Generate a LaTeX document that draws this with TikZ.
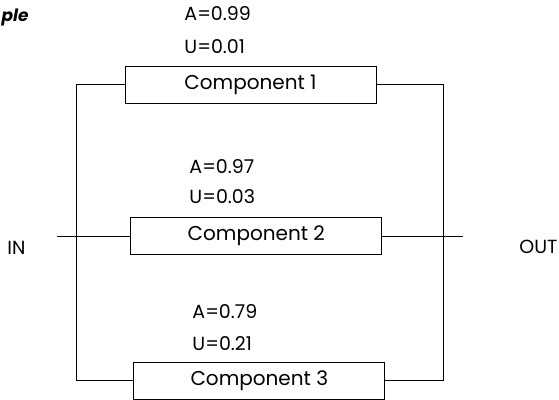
\documentclass[tikz,border=0pt]{standalone}
\usepackage{fontspec}
\setmainfont{Poppins}
\usetikzlibrary{positioning}

\begin{document}
\begin{tikzpicture}[x=1pt, y=-1pt, line width=0.9pt,
    comp/.style={draw, rectangle, minimum width=251pt, minimum height=37pt, inner sep=0pt, font=\fontsize{20}{24}\selectfont},
    val/.style={anchor=base west, inner sep=0pt, font=\fontsize{19}{23}\selectfont}]
    \useasboundingbox (0,0) rectangle (559,399);

    % Title (cut off at the left edge)
    \node[anchor=base east, inner sep=0pt, font=\fontsize{17}{20}\selectfont\bfseries\itshape] (title) at (29,21.7) {ple};

    % Components
    \node[comp] (c1) at (250.5,84.5) {Component 1};
    \node[comp] (c2) at (256.3,236) {Component 2};
    \node[comp] (c3) at (259.3,380.5) {Component 3};

    % Availability values
    \node[val] (a1) at (184,20.7) {A=0.99};
    \node[val] (u1) at (184,53.3) {U=0.01};
    \node[val] (a2) at (189,173.3) {A=0.97};
    \node[val] (u2) at (189,203.3) {U=0.03};
    \node[val] (a3) at (192,318.3) {A=0.79};
    \node[val] (u3) at (192,350) {U=0.21};

    % Input and output
    \node[val] (in) at (7,254.3) {IN};
    \node[val] (out) at (519,253.3) {OUT};
    \coordinate (inend) at (57,236);
    \coordinate (outend) at (463,236);

    % Parallel wiring
    \draw (c1.west) -- ++(-48,0) |- (c3.west);
    \draw (c1.east) -- ++(67,0) |- (c3.east);
    \draw (inend) -- (c2.west);
    \draw (c2.east) -- (outend);
\end{tikzpicture}
\end{document}
